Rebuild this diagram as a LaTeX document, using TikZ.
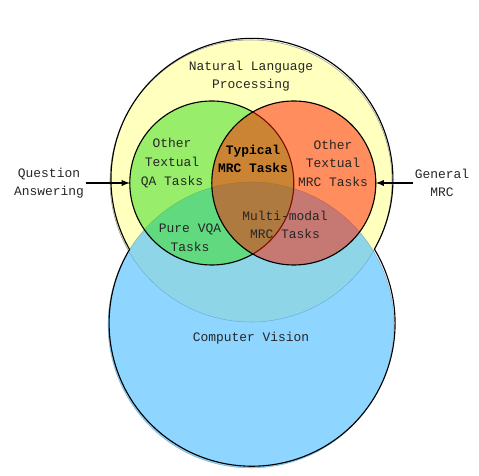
\documentclass[tikz,border=0pt]{standalone}
\usepackage{fontspec}
\setmonofont{Liberation Mono}

\definecolor{nlpyellow}{RGB}{255,255,190}
\definecolor{cvblue}{RGB}{82,192,255}
\definecolor{qagreen}{RGB}{51,221,24}
\definecolor{mrcorange}{RGB}{255,29,0}

\begin{document}
\begin{tikzpicture}[
    area/.style={circle, minimum size=#1, inner sep=0pt, outer sep=0pt},
    tag/.style={align=center, inner sep=1pt, text=black!85,
        font=\ttfamily\fontsize{9.2}{13.2}\selectfont},
    boldtag/.style={tag, text=black,
        font=\ttfamily\bfseries\fontsize{9.2}{13.2}\selectfont},
    rim/.style={line width=0.8pt}
]
    \useasboundingbox (-6.275,-7.375) rectangle (5.7,4.525);
    % Draw the NLP and CV areas
    \node[area=7.05cm, fill=nlpyellow, draw=black!40] (nlp) at (0,0) {};
    \node[area=7.15cm, fill=cvblue, fill opacity=0.65, draw=black, draw opacity=0.2] (cv) at (0,-3.6) {};
    % Outer rims, where the two areas do not overlap
    \draw[rim] (nlp.-29.76) arc[start angle=-29.76, end angle=209.76, radius=3.525];
    \draw[rim] (cv.148.84) arc[start angle=148.84, end angle=391.16, radius=3.575];
    % Draw the QA and MRC areas
    \node[area=4.1cm, fill=qagreen, fill opacity=0.5, draw, rim] (qa) at (-0.98,-0.05) {};
    \node[area=4.1cm, fill=mrcorange, fill opacity=0.5, draw, rim] (mrc) at (1.07,-0.05) {};
    % Labels of the areas
    \node[tag] (nlplabel) at (0,2.625) {Natural Language\\Processing};
    \node[tag] (qalabel) at (-1.975,0.45) {Other\\Textual\\QA Tasks};
    \node[boldtag] (typical) at (0.05,0.55) {Typical\\MRC Tasks};
    \node[tag] (mrclabel) at (2.05,0.45) {Other\\Textual\\MRC Tasks};
    \node[tag] (vqa) at (-1.525,-1.425) {Pure VQA\\Tasks};
    \node[tag] (multi) at (0.85,-1.1) {Multi-modal\\MRC Tasks};
    \node[tag] (cvlabel) at (0,-3.925) {Computer Vision};
    % Outside labels with arrows
    \node[tag] (question) at (-5.05,-0.05) {Question\\Answering};
    \node[tag] (general) at (4.775,-0.05) {General\\MRC};
    \draw[-latex, line width=1pt] (question.east) -- (qa.west);
    \draw[-latex, line width=1pt] (general.west) -- (mrc.east);
\end{tikzpicture}
\end{document}
